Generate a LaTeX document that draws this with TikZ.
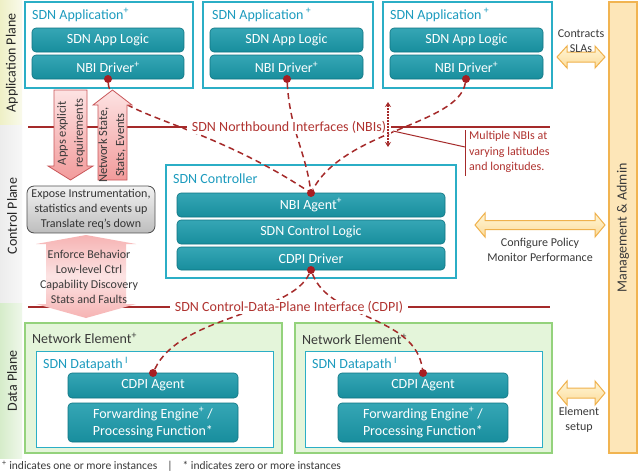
\documentclass[tikz,border=0pt]{standalone}
\usepackage{fontspec}
\setmainfont{Carlito}
\usetikzlibrary{arrows.meta}
\definecolor{tealF}{HTML}{1A9AAB}
\definecolor{tealD}{HTML}{0F7482}
\definecolor{tealB}{HTML}{2BAEC6}
\definecolor{tealT}{HTML}{1C9BBE}
\definecolor{ifred}{HTML}{A52A2A}
\definecolor{redT}{HTML}{B03330}
\definecolor{dotred}{HTML}{A81E22}
\definecolor{txtG}{HTML}{3A3A3A}
\definecolor{neF}{HTML}{E4F5DA}
\definecolor{neB}{HTML}{94D27C}
\definecolor{pinkL}{HTML}{FDE3E3}
\definecolor{pinkD}{HTML}{F29B9B}
\definecolor{pinkB}{HTML}{C9575A}
\definecolor{pinkM}{HTML}{FCE4E4}
\definecolor{pinkE}{HTML}{F6B3B3}
\definecolor{orB}{HTML}{EFB14C}
\definecolor{orL}{HTML}{FFF5D6}
\definecolor{orD}{HTML}{FCDC9A}
\definecolor{mgF}{HTML}{FDE6B8}
\definecolor{mgB}{HTML}{F1B451}
\definecolor{appY}{HTML}{EEF0C6}
\definecolor{ctlG}{HTML}{ECECEC}
\definecolor{datG}{HTML}{D6ECCA}
\definecolor{gboxL}{HTML}{F2F2F2}
\definecolor{gboxD}{HTML}{BDBDBD}
\definecolor{gboxB}{HTML}{505050}
\newcommand\fsz[2]{\fontsize{#1}{#2}\selectfont}
\begin{document}
\begin{tikzpicture}[x=1pt,y=-1pt,
 ibox/.style={draw=tealD, line width=0.6pt, top color=tealF!88!white, bottom color=tealF!92!black, rounded corners=4pt, text=white, minimum height=24pt, inner sep=0pt, font=\fsz{14}{17}, align=center},
 obox/.style={draw=tealB, line width=1.4pt, fill=white},
 ttl/.style={anchor=west, inner sep=0pt, text=tealT, font=\fsz{14}{16}},
 dot/.style={circle, fill=dotred, inner sep=0pt, minimum size=8pt},
 dashl/.style={draw=ifred, line width=1.5pt, dash pattern=on 6pt off 4pt},
 iface/.style={draw=ifred, line width=2.5pt},
 iflabel/.style={fill=white, text=redT, inner xsep=5pt, inner ysep=1pt, font=\fsz{14}{16}},
 gtxt/.style={text=txtG, font=\fsz{12}{15}, align=center},
 pinkarrow/.style={draw=pinkB, line width=0.8pt, top color=pinkL, bottom color=pinkD},
 oarrow/.style={draw=orB, line width=1pt, top color=orL, bottom color=orD},
 ptxt/.style={rotate=90, text=black!85, font=\fsz{14}{16}},
]
\useasboundingbox (0,0) rectangle (640,472);
\fill[white] (0,0) rectangle (640,472);
% plane bands
\shade[left color=appY, right color=appY!35!white] (0,0) rectangle (22,125);
\shade[left color=ctlG, right color=ctlG!40!white] (0,125) rectangle (22,303);
\shade[left color=datG, right color=datG!40!white] (0,303) rectangle (22,458);
\node[ptxt] (lapp) at (12,63) {Application Plane};
\node[ptxt] (lctl) at (12,216) {Control Plane};
\node[ptxt] (ldat) at (12,381) {Data Plane};

% management bar
\draw[draw=mgB, line width=1.2pt, fill=mgF] (609,2) rectangle (637,453);
\node[rotate=90, text=txtG, font=\fsz{14}{16}] (mgmt) at (623,228) {Management \& Admin};

% applications
\draw[obox] (25,2) rectangle (193,88);
\node[ttl] (t1) at (32,15) {SDN Application\textsuperscript{+}};
\node[ibox, minimum width=152pt] (al1) at (108,40) {SDN App Logic};
\node[ibox, minimum width=152pt] (nd1) at (108,67) {NBI Driver\textsuperscript{+}};
\draw[obox] (203,2) rectangle (373,88);
\node[ttl] (t2) at (212,15) {SDN Application\,\textsuperscript{+}};
\node[ibox, minimum width=153pt] (al2) at (286.5,40) {SDN App Logic};
\node[ibox, minimum width=153pt] (nd2) at (286.5,67) {NBI Driver\textsuperscript{+}};
\draw[obox] (383,2) rectangle (552,88);
\node[ttl] (t3) at (390,15) {SDN Application\,\textsuperscript{+}};
\node[ibox, minimum width=153pt] (al3) at (466.5,40) {SDN App Logic};
\node[ibox, minimum width=153pt] (nd3) at (466.5,67) {NBI Driver\textsuperscript{+}};

% controller
\draw[obox] (166,165) rectangle (456,278);
\node[ttl] (tc) at (173,179) {SDN Controller};
\node[ibox, minimum width=268pt, minimum height=24pt] (nbia) at (311,205) {NBI Agent\textsuperscript{+}};
\node[ibox, minimum width=268pt, minimum height=24pt] (ctl) at (311,232) {SDN Control Logic};
\node[ibox, minimum width=268pt, minimum height=23pt] (cdpid) at (311,258.5) {CDPI Driver};

% network elements
\draw[draw=neB, line width=1.5pt, fill=neF] (25,323) rectangle (282,453);
\node[anchor=west, inner sep=0pt, text=txtG, font=\fsz{14}{16}] (ne1) at (32,338) {Network Element\textsuperscript{+}};
\draw[draw=tealB, line width=1pt, fill=white] (36,351) rectangle (273,447);
\node[ttl] (dp1) at (43,364) {SDN Datapath\,\textsuperscript{I}};
\node[ibox, minimum width=170pt, minimum height=25pt] (ca1) at (153,385.5) {CDPI Agent};
\node[ibox, minimum width=170pt, minimum height=39pt] (fe1) at (153,422.5) {Forwarding Engine\textsuperscript{+} /\\Processing Function*};
\draw[draw=neB, line width=1.5pt, fill=neF] (295,323) rectangle (552,453);
\node[anchor=west, inner sep=0pt, text=txtG, font=\fsz{14}{16}] (ne2) at (302,339) {Network Element\textsuperscript{+}};
\draw[draw=tealB, line width=1pt, fill=white] (305,351) rectangle (542,447);
\node[ttl] (dp2) at (312,364) {SDN Datapath\,\textsuperscript{I}};
\node[ibox, minimum width=170pt, minimum height=25pt] (ca2) at (423,385.5) {CDPI Agent};
\node[ibox, minimum width=170pt, minimum height=39pt] (fe2) at (423,422.5) {Forwarding Engine\textsuperscript{+} /\\Processing Function*};

% dots
\node[dot] (p1) at (108,79) {};
\node[dot] (p2) at (287,79) {};
\node[dot] (p3) at (466,79) {};
\node[dot] (pa) at (311,193) {};
\node[dot] (pd) at (311,270) {};
\node[dot] (q1) at (153,373) {};
\node[dot] (q2) at (423,373) {};

% dashed connectors
\draw[dashl] (p1) .. controls (110,115) and (200,120) .. (pa);
\draw[dashl] (p2) .. controls (290,130) and (305,150) .. (pa);
\draw[dashl] (p3) .. controls (458,125) and (345,130) .. (pa);
\draw[dashl] (pd) .. controls (290,315) and (180,315) .. (q1);
\draw[dashl] (pd) .. controls (330,320) and (415,315) .. (q2);

% interface lines
\coordinate (nbiL) at (28,127);
\coordinate (nbiR) at (550,127);
\draw[iface] (nbiL) -- (nbiR) node[midway, iflabel] (nbil) {SDN Northbound Interfaces (NBIs)};
\coordinate (cdL) at (28,307);
\coordinate (cdR) at (550,307);
\draw[iface] (cdL) -- (cdR) node[midway, iflabel] (cdl) {SDN Control-Data-Plane Interface (CDPI)};

% dotted double arrow and multiple NBIs note
\coordinate (va) at (388,102);
\coordinate (vb) at (388,147);
\draw[ifred, line width=1.2pt, dash pattern=on 1.5pt off 1.5pt, {Stealth[length=5pt,width=6pt]}-{Stealth[length=5pt,width=6pt]}] (va) -- (vb);
\coordinate (s1) at (393,131);
\coordinate (s2) at (465,147);
\coordinate (b1) at (465,130);
\coordinate (b2) at (465,176);
\draw[ifred, line width=1pt] (s1) -- (s2);
\draw[ifred, line width=1pt] (b1) -- (b2);
\node[anchor=north west, align=left, text=redT, font=\fsz{12}{15.5}, inner sep=0pt] (mnote) at (469,131) {Multiple NBIs at\\varying latitudes\\and longitudes.};

% pink arrows
\draw[pinkarrow] (54,90) -- (87,90) -- (87,166) -- (93,166) -- (70.5,180) -- (48,166) -- (54,166) -- cycle;
\node[gtxt, rotate=90, font=\fsz{12.5}{17}] (appsreq) at (71,133) {Apps explicit\\requirements};
\draw[pinkarrow] (112.5,90) -- (132,105) -- (127,105) -- (127,180) -- (98,180) -- (98,105) -- (93,105) -- cycle;
\node[gtxt, rotate=90, font=\fsz{12.5}{17}] (netst) at (112,145) {Network State,\\Stats, Events};

% gray box
\node[draw=gboxB, line width=0.8pt, rounded corners=7pt, top color=gboxL, bottom color=gboxD, minimum width=128pt, minimum height=45pt, gtxt, text=black!80] (expose) at (91,209.5) {Expose Instrumentation,\\statistics and events up\\Translate req’s down};

% big double arrow
\path[top color=pinkE, bottom color=pinkE, middle color=pinkM] (86,235) -- (136,244) -- (126,244) -- (126,304) -- (136,304) -- (86,318) -- (36,304) -- (46,304) -- (46,244) -- (36,244) -- cycle;
\node[gtxt] (enf) at (89,277) {Enforce Behavior\\Low-level Ctrl\\Capability Discovery\\Stats and Faults};

% orange double arrows
\draw[oarrow] (557,57) -- (567,46) -- (567,52) -- (595,52) -- (595,46) -- (605,57) -- (595,68) -- (595,62) -- (567,62) -- (567,68) -- cycle;
\node[gtxt] (contr) at (581,41) {Contracts\\SLAs};
\draw[oarrow] (475,225) -- (485,213) -- (485,220.5) -- (595,220.5) -- (595,213) -- (605,225) -- (595,237) -- (595,229.5) -- (485,229.5) -- (485,237) -- cycle;
\node[gtxt] (conf) at (540,249.5) {Configure Policy\\Monitor Performance};
\draw[oarrow] (557,393) -- (567,381) -- (567,388) -- (595,388) -- (595,381) -- (605,393) -- (595,405) -- (595,398) -- (567,398) -- (567,405) -- cycle;
\node[gtxt] (elem) at (579,420) {Element\\setup};

% footnote
\node[anchor=west, inner sep=0pt, text=txtG, font=\fsz{11.5}{14}] (foot) at (2,466) {\textsuperscript{+} indicates one or more instances\hspace{10pt}|\hspace{10pt}* indicates zero or more instances};
\end{tikzpicture}
\end{document}
